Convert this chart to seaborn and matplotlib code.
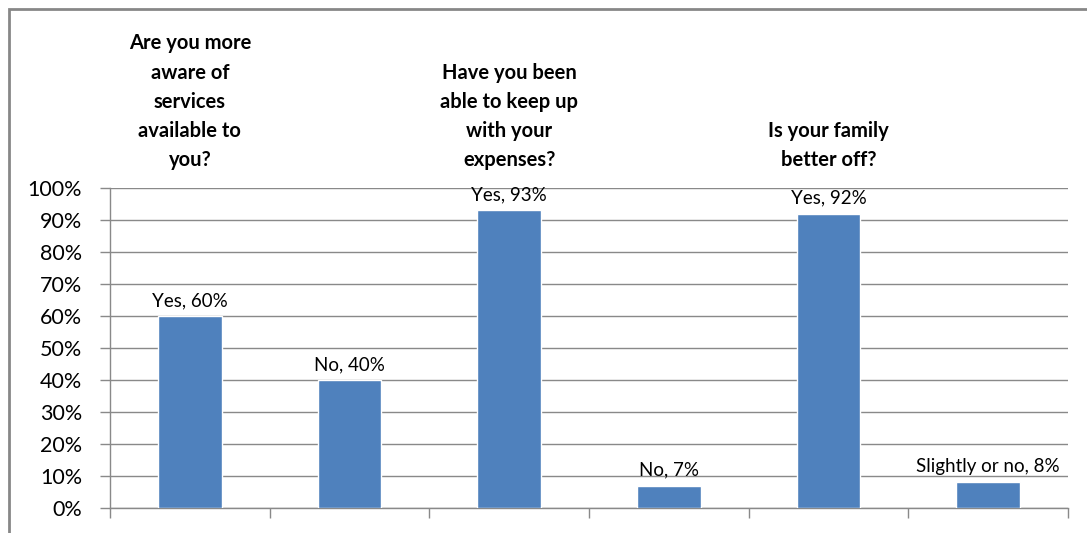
import matplotlib
matplotlib.use("Agg")
import matplotlib.pyplot as plt
import matplotlib.patches as mpatches
import numpy as np
import pandas as pd
import seaborn as sns

###############################################################################
# Data.

answers = ["Yes", "No", "Yes", "No", "Yes", "Slightly or no"]
shares = [60, 40, 93, 7, 92, 8]
questions = [
    "Are you more\naware of\nservices\navailable to\nyou?",
    "Have you been\nable to keep up\nwith your\nexpenses?",
    "Is your family\nbetter off?",
]
question_slots = [0, 2, 4]
yticks = [0, 10, 20, 30, 40, 50, 60, 70, 80, 90, 100]

df = pd.DataFrame({
    "slot": [str(i) for i in range(len(shares))],
    "answer": answers,
    "share": shares,
})

###############################################################################
# Plot settings.

sns.set_theme(style="white")
plt.rcParams["font.family"] = ["Lato", "DejaVu Sans"]
bar_color = "#4F81BD"
grid_color = "#898989"

fig = plt.figure(figsize=(10.87, 5.33), dpi=100)
ax = fig.add_axes([0.1012, 0.0469, 0.8813, 0.6004])

sns.barplot(data=df, x="slot", y="share", ax=ax, color=bar_color,
            width=0.4, saturation=1, zorder=3)

ax.set_xlim(-0.5, len(shares) - 0.5)
ax.set_ylim(0, 100)
ax.set_yticks(yticks)
ax.set_yticklabels(["{}%".format(t) for t in yticks], fontsize=15.5)
ax.set_xticks(np.arange(len(shares) + 1) - 0.5)
ax.set_xticklabels([])
ax.set(xlabel=None, ylabel=None)

ax.yaxis.grid(True, color=grid_color, linewidth=1, zorder=0)
ax.set_axisbelow(True)
for side in ["top", "right"]:
    ax.spines[side].set_visible(False)
for side in ["left", "bottom"]:
    ax.spines[side].set_color(grid_color)
    ax.spines[side].set_linewidth(1)
ax.tick_params(axis="both", which="major", length=7, width=1,
               color=grid_color, direction="out", left=True, bottom=True)
ax.tick_params(axis="y", pad=13, labelcolor="black")

###############################################################################
# Data labels above bars.

for i, (answer, share) in enumerate(zip(answers, shares)):
    ax.annotate("{}, {}%".format(answer, share), xy=(i, share),
                xytext=(0, 5), textcoords="offset points", ha="center",
                va="bottom", fontsize=13.5, color="black")

###############################################################################
# Question headers above the groups.

for slot, q in zip(question_slots, questions):
    ax.text(slot, 1.055, q, transform=ax.get_xaxis_transform(),
            ha="center", va="bottom", fontsize=14.5, fontweight="bold",
            linespacing=1.58, color="black")

###############################################################################
# Chart border (cropped in the reference).

fig.patches.append(mpatches.Rectangle(
    (9 / 1087, -0.05), 1.1, 1 - 9 / 533 + 0.05, transform=fig.transFigure,
    fill=False, edgecolor="#878787", linewidth=2))

plt.savefig("out.png", dpi=100)
plt.close()
